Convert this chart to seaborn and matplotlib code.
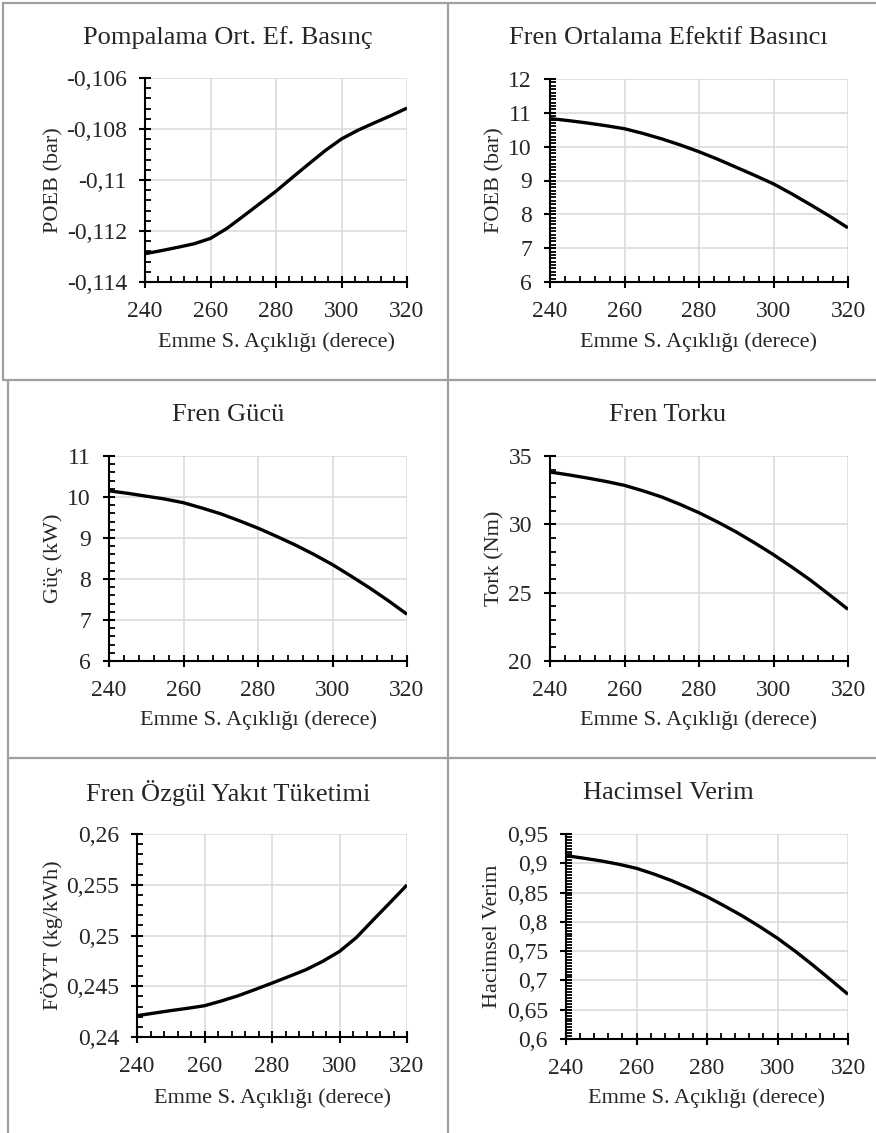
import numpy as np
import pandas as pd
import seaborn as sns
import matplotlib
matplotlib.use("Agg")
import matplotlib.pyplot as plt
from matplotlib.ticker import MultipleLocator, AutoMinorLocator, FuncFormatter
from matplotlib.lines import Line2D

# ---- data ----
aciklik = [240, 245, 250, 255, 260, 265, 270, 275, 280, 285, 290, 295, 300, 305, 310, 315, 320]
poeb = [-0.11289, -0.11277, -0.11264, -0.11250, -0.11229, -0.11190, -0.11142, -0.11093, -0.11044,
        -0.10990, -0.10937, -0.10885, -0.10839, -0.10805, -0.10776, -0.10748, -0.10718]
foeb = [10.83, 10.77, 10.70, 10.62, 10.53, 10.39, 10.23, 10.05, 9.85, 9.63, 9.39, 9.15, 8.90,
        8.60, 8.28, 7.95, 7.60]
guc = [10.15, 10.09, 10.02, 9.95, 9.86, 9.73, 9.59, 9.42, 9.24, 9.04, 8.83, 8.60, 8.35,
       8.07, 7.78, 7.47, 7.14]
tork = [33.83, 33.62, 33.39, 33.14, 32.85, 32.45, 32.00, 31.45, 30.85, 30.17, 29.44, 28.63, 27.78,
        26.86, 25.90, 24.85, 23.78]
foyt = [0.2421, 0.24235, 0.2426, 0.24283, 0.24308, 0.24355, 0.24407, 0.24468, 0.24531, 0.24596,
        0.24662, 0.24745, 0.24843, 0.24980, 0.25154, 0.25325, 0.25498]
hacimsel = [0.913, 0.9087, 0.904, 0.8983, 0.8914, 0.8815, 0.8703, 0.8573, 0.843, 0.8270, 0.8102,
            0.7917, 0.772, 0.7500, 0.7263, 0.7015, 0.6763]

titles = ["Pompalama Ort. Ef. Basınç", "Fren Ortalama Efektif Basıncı", "Fren Gücü",
          "Fren Torku", "Fren Özgül Yakıt Tüketimi", "Hacimsel Verim"]
ylabels = ["POEB (bar)", "FOEB (bar)", "Güç (kW)", "Tork (Nm)", "FÖYT (kg/kWh)", "Hacimsel Verim"]
xlabel = "Emme S. Açıklığı (derece)"
ylims = [(-0.114, -0.106), (6, 12), (6, 11), (20, 35), (0.24, 0.26), (0.6, 0.95)]
ymajor = [0.002, 1, 1, 5, 0.005, 0.05]
yminor_n = [5, 10, 5, 5, 5, 10]
series = [poeb, foeb, guc, tork, foyt, hacimsel]

sns.set_theme(style="white")
plt.rcParams['font.family'] = ['Liberation Serif', 'DejaVu Serif']

W, H = 876, 1133
fig = plt.figure(figsize=(W / 100, H / 100), dpi=100)

# axes boxes in pixels: left, right, top, bottom
boxes = [(145, 407, 78, 282), (550, 848, 79, 282),
         (109, 407, 456, 661), (550, 848, 456, 661),
         (137, 407, 834, 1037), (566, 848, 834, 1039)]
title_pos = [(228, 38), (668, 38), (228, 415), (668, 415), (228, 793), (668, 793)]
xlabel_y = [342, 342, 720, 720, 1098, 1098]
ylabel_x = [50, 491, 50, 491, 50, 489]

def fmt(v, pos):
    s = f"{v:.4f}".rstrip('0').rstrip('.')
    if s in ("-0", ""):
        s = "0"
    return s.replace('.', ',')

for i in range(6):
    l, r, t, b = boxes[i]
    ax = fig.add_axes([l / W, 1 - b / H, (r - l) / W, (b - t) / H])
    df = pd.DataFrame({"x": aciklik, "y": series[i]})
    sns.lineplot(data=df, x="x", y="y", ax=ax, color="black", linewidth=2.4,
                 solid_capstyle="butt", solid_joinstyle="round", zorder=5)
    ax.set_xlim(240, 320)
    ax.set_ylim(*ylims[i])
    ax.xaxis.set_major_locator(MultipleLocator(20))
    ax.xaxis.set_minor_locator(AutoMinorLocator(5))
    ax.yaxis.set_major_locator(MultipleLocator(ymajor[i]))
    ax.yaxis.set_minor_locator(AutoMinorLocator(yminor_n[i]))
    ax.yaxis.set_major_formatter(FuncFormatter(fmt))
    ax.grid(True, which="major", color="#d9d9d9", linewidth=1.1)
    ax.set_axisbelow(True)
    for s in ("top", "right"):
        ax.spines[s].set_visible(False)
    for s in ("left", "bottom"):
        ax.spines[s].set_color("black")
        ax.spines[s].set_linewidth(1.5)
        ax.spines[s].set_zorder(6)
    ax.tick_params(which="major", direction="inout", length=8, width=1.5, color="black",
                   labelsize=17, left=True, bottom=True)
    ax.tick_params(which="minor", direction="in", length=4, width=1.3, color="black",
                   left=True, bottom=True)
    ax.tick_params(axis="x", which="major", pad=10)
    ax.tick_params(axis="y", which="major", pad=9)
    ax.set_xlabel("")
    ax.set_ylabel(ylabels[i], fontsize=16)
    ax.yaxis.set_label_coords((ylabel_x[i] + 13 - l) / (r - l), 0.5)
    ax.patch.set_alpha(0)
    fig.text(((l + r) / 2) / W, 1 - xlabel_y[i] / H, xlabel, fontsize=16,
             ha="center", va="center")
    tx, ty = title_pos[i]
    fig.text(tx / W, 1 - ty / H, titles[i], fontsize=19, ha="center", va="center")

# table-like cell borders
bc = "#a0a0a0"
def seg(x0, y0, x1, y1):
    fig.add_artist(Line2D([x0 / W, x1 / W], [1 - y0 / H, 1 - y1 / H],
                          transform=fig.transFigure, color=bc, linewidth=1.6))

seg(3, 3, W, 3)
seg(3, 3, 3, 380)
seg(8, 380, 8, H)
seg(3, 380, W, 380)
seg(8, 758, W, 758)
seg(448, 3, 448, H)

fig.savefig("out.png", dpi=100)
